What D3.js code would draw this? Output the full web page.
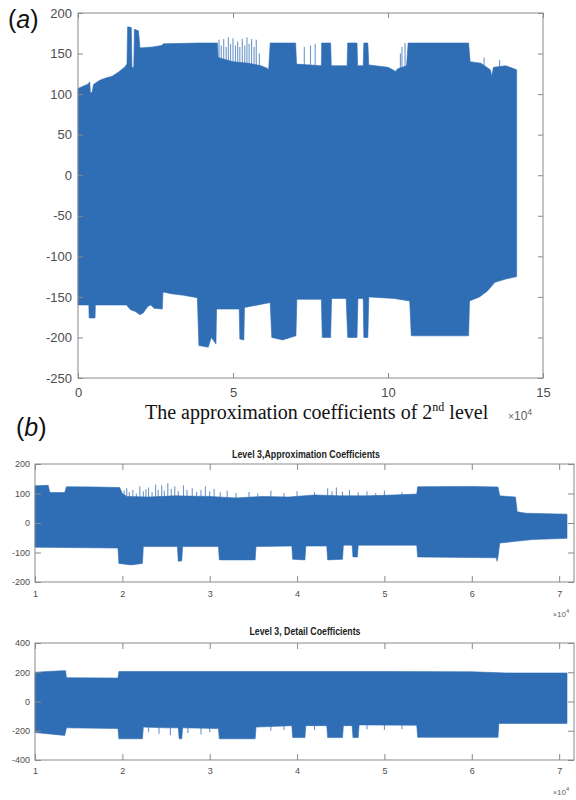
<!DOCTYPE html>
<html lang="en">
<head>
  <meta charset="UTF-8">
  <title>Wavelet coefficients</title>
  <style>
    body { margin: 0; background: #fff; }
    svg { display: block; font-family: "Liberation Sans", Arial, sans-serif; }
    .tick text { fill: #4d4d4d; }
    .tick line { stroke: #8a8a8a; }
    .domain { display: none; }
  </style>
</head>
<body>
  <script src="https://d3js.org/d3.v7.min.js"></script>
  <script>
    // envelopes, x in units of 1e4 samples
    const aTop = [[0,107],[0.3,112],[0.38,115],[0.4,101],[0.46,103],[0.5,112],[0.7,117],[0.9,120],[1.1,122],
      [1.3,127],[1.5,133],[1.58,137],[1.6,183],[1.72,182],[1.74,133],[1.8,133],[1.82,180],[1.95,178],[2.0,157],
      [2.4,158],[2.7,160],[2.75,162],[3.9,163],[4.5,163],[4.52,145],[5.0,140],[5.5,138],[5.9,135],[6.1,132],
      [6.15,130],[6.2,163],[7.02,163],[7.05,137],[7.85,135],[7.86,163],[8.15,163],[8.17,135],[8.68,135],[8.7,163],
      [9.0,163],[9.02,135],[9.2,135],[9.22,163],[9.35,163],[9.38,136],[10.0,133],[10.25,128],[10.3,131],[10.6,135],
      [10.65,163],[12.6,163],[12.65,140],[13.0,138],[13.3,130],[13.35,122],[13.4,133],[13.8,135],[14.15,130]];
    const aBottom = [[0,-160],[0.35,-160],[0.36,-176],[0.55,-176],[0.56,-160],[1.58,-160],[1.6,-162],[1.7,-166],
      [1.85,-168],[2.0,-172],[2.1,-170],[2.25,-162],[2.35,-160],[2.45,-164],[2.72,-165],[2.74,-144],[3.0,-146],
      [3.4,-148],[3.85,-151],[3.9,-210],[4.2,-212],[4.3,-200],[4.45,-208],[4.47,-165],[5.2,-165],[5.22,-202],
      [5.35,-203],[5.37,-163],[5.8,-160],[6.2,-157],[6.25,-200],[6.6,-203],[7.03,-198],[7.06,-153],[7.85,-153],
      [7.88,-200],[8.15,-200],[8.18,-152],[8.65,-152],[8.7,-200],[9.0,-200],[9.03,-152],[9.2,-152],[9.22,-200],
      [9.35,-200],[9.38,-150],[10.2,-152],[10.7,-155],[10.75,-198],[12.6,-198],[12.63,-155],[12.95,-150],
      [13.2,-143],[13.45,-132],[13.8,-128],[14.15,-125]];
    const aSpikes = [[4.55,167],[4.62,160],[4.7,168],[4.78,158],[4.85,170],[4.92,162],[5.0,169],[5.08,160],
      [5.15,165],[5.22,158],[5.3,168],[5.38,160],[5.45,170],[5.52,162],[5.6,168],[5.68,158],[5.75,167],
      [5.85,150],[7.3,158],[7.5,160],[7.65,162],[10.4,150],[10.45,158],[10.55,163],[13.1,145],[13.6,142]];

    const b1Top = [[1.0,126],[1.15,128],[1.17,103],[1.34,103],[1.36,123],[1.7,122],[1.97,120],[2.0,100],
      [2.05,90],[2.3,88],[2.6,92],[3.0,90],[3.3,85],[3.6,90],[3.9,88],[4.2,95],[4.5,92],[4.8,92],[5.1,95],
      [5.37,98],[5.38,123],[6.0,124],[6.3,122],[6.32,92],[6.5,88],[6.52,38],[6.62,33],[7.09,30]];
    const b1Bottom = [[1.0,-82],[1.95,-85],[1.96,-137],[2.1,-142],[2.23,-137],[2.24,-80],[2.63,-80],[2.64,-130],
      [2.68,-128],[2.69,-80],[3.1,-80],[3.11,-125],[3.52,-125],[3.53,-80],[3.94,-78],[3.95,-123],[4.09,-125],
      [4.1,-78],[4.34,-78],[4.35,-125],[4.52,-123],[4.53,-75],[4.63,-75],[4.64,-115],[4.69,-115],[4.7,-75],
      [5.37,-75],[5.38,-115],[6.28,-118],[6.29,-130],[6.3,-115],[6.32,-68],[6.5,-62],[6.7,-56],[7.09,-52]];
    const b1Spikes = [[2.02,110],[2.05,118],[2.08,105],[2.12,112],[2.16,100],[2.2,125],[2.24,108],[2.27,115],
      [2.3,120],[2.34,104],[2.38,130],[2.41,112],[2.45,128],[2.48,110],[2.52,135],[2.56,115],[2.6,125],
      [2.64,108],[2.7,128],[2.74,112],[2.8,118],[2.85,105],[2.9,112],[2.95,125],[3.0,108],[3.05,115],
      [3.12,104],[3.2,110],[3.3,102],[3.45,105],[3.55,100],[3.7,110],[3.85,102],[4.0,108],[4.2,105],
      [4.35,118],[4.4,108],[4.45,120],[4.52,106],[4.6,112],[4.7,104],[4.8,108],[4.9,102],[5.0,110],[5.2,104]];

    const b2Top = [[1.0,200],[1.3,210],[1.35,210],[1.36,163],[1.95,160],[1.96,205],[3.0,205],[4.0,205],
      [5.0,205],[6.0,203],[6.4,195],[7.09,195]];
    const b2Bottom = [[1.0,-212],[1.34,-232],[1.36,-180],[1.95,-185],[1.96,-255],[2.23,-255],[2.24,-175],
      [2.5,-180],[2.64,-180],[2.65,-255],[2.68,-255],[2.69,-180],[3.1,-185],[3.11,-255],[3.52,-255],[3.53,-175],
      [3.94,-165],[3.95,-247],[4.09,-247],[4.1,-165],[4.34,-165],[4.35,-247],[4.52,-247],[4.53,-165],[4.63,-165],
      [4.64,-247],[4.7,-247],[4.71,-160],[5.37,-162],[5.38,-245],[6.3,-245],[6.31,-150],[7.09,-150]];
    const b2Spikes = [[2.3,-210],[2.42,-220],[2.55,-230],[2.75,-215],[2.9,-225],[3.0,-210],[3.7,-200],
      [3.85,-195],[4.2,-195],[4.8,-190],[5.0,-195],[5.2,-190]];

    const aXTicks = [0, 5, 10, 15];
    const aYTicks = [-250, -200, -150, -100, -50, 0, 50, 100, 150, 200];
    const bXTicks = [1, 2, 3, 4, 5, 6, 7];
    const b1YTicks = [-200, -100, 0, 100, 200];
    const b2YTicks = [-400, -200, 0, 200, 400];

    const blue = "#2f6db4";
    const svg = d3.select("body").append("svg").attr("width", 576).attr("height", 800);
    const plain = d => String(d);   // hyphen minus like the original

    function panel(cfg) {
      const x = d3.scaleLinear().domain(cfg.xDomain).range([cfg.left, cfg.right]);
      const y = d3.scaleLinear().domain(cfg.yDomain).range([cfg.bottom, cfg.top]);
      const g = svg.append("g");

      // spikes first, the band covers their inner part
      g.selectAll("line.spike").data(cfg.spikes).enter().append("line")
        .attr("class", "spike")
        .attr("x1", d => x(d[0])).attr("x2", d => x(d[0]))
        .attr("y1", y(0)).attr("y2", d => y(d[1]))
        .attr("stroke", blue).attr("stroke-width", 1.1).attr("opacity", 0.7);

      const pts = cfg.topEdge.concat(cfg.bottomEdge.slice().reverse());
      const line = d3.line().x(d => x(d[0])).y(d => y(d[1]));
      g.append("path").attr("d", line(pts) + "Z").attr("fill", blue).attr("stroke", blue).attr("stroke-width", 0.6);

      const fs = cfg.fontSize;
      g.append("g").attr("transform", `translate(0,${cfg.bottom})`)
        .call(d3.axisBottom(x).tickValues(cfg.xTicks).tickFormat(plain).tickSizeInner(-cfg.tick).tickSizeOuter(0).tickPadding(cfg.xPad))
        .call(s => s.selectAll("text").attr("font-size", fs));
      g.append("g").attr("transform", `translate(0,${cfg.top})`)
        .call(d3.axisTop(x).tickValues(cfg.xTicks).tickSizeInner(-cfg.tick).tickSizeOuter(0).tickFormat(""));
      g.append("g").attr("transform", `translate(${cfg.left},0)`)
        .call(d3.axisLeft(y).tickValues(cfg.yTicks).tickFormat(plain).tickSizeInner(-cfg.tick).tickSizeOuter(0).tickPadding(cfg.yPad))
        .call(s => s.selectAll("text").attr("font-size", fs));
      g.append("g").attr("transform", `translate(${cfg.right},0)`)
        .call(d3.axisRight(y).tickValues(cfg.yTicks).tickSizeInner(-cfg.tick).tickSizeOuter(0).tickFormat(""));

      g.append("rect")
        .attr("x", cfg.left).attr("y", cfg.top)
        .attr("width", cfg.right - cfg.left).attr("height", cfg.bottom - cfg.top)
        .attr("fill", "none").attr("stroke", "#8a8a8a").attr("stroke-width", 1);
    }

    panel({ left: 78, right: 543, top: 13, bottom: 378, xDomain: [0, 15], yDomain: [-250, 200],
      topEdge: aTop, bottomEdge: aBottom, spikes: aSpikes, xTicks: aXTicks, yTicks: aYTicks,
      tick: 5, xPad: 10, yPad: 6, fontSize: 13 });
    panel({ left: 35, right: 574, top: 464, bottom: 582, xDomain: [1, 7.17], yDomain: [-200, 200],
      topEdge: b1Top, bottomEdge: b1Bottom, spikes: b1Spikes, xTicks: bXTicks, yTicks: b1YTicks,
      tick: 6, xPad: 9, yPad: 5, fontSize: 9 });
    panel({ left: 35, right: 574, top: 643, bottom: 760, xDomain: [1, 7.17], yDomain: [-400, 400],
      topEdge: b2Top, bottomEdge: b2Bottom, spikes: b2Spikes, xTicks: bXTicks, yTicks: b2YTicks,
      tick: 6, xPad: 8, yPad: 5, fontSize: 9 });

    // panel letters
    const letter = (txt, xx, yy) => {
      const t = svg.append("text").attr("x", xx).attr("y", yy).attr("font-size", 25).attr("fill", "#111");
      t.append("tspan").text("(");
      t.append("tspan").attr("font-style", "italic").text(txt);
      t.append("tspan").text(")");
    };
    letter("a", 8, 28);
    letter("b", 16, 436);

    // caption under (a)
    const cap = svg.append("text").attr("x", 145).attr("y", 419)
      .attr("font-family", "'Liberation Serif', 'Times New Roman', serif").attr("font-size", 20).attr("fill", "#111");
    cap.append("tspan").text("The approximation coefficients of 2");
    cap.append("tspan").attr("font-size", 12).attr("dy", -8).text("nd");
    cap.append("tspan").attr("dy", 8).text(" level");

    const exp = (xx, yy, fs) => {
      const t = svg.append("text").attr("x", xx).attr("y", yy).attr("font-size", fs).attr("fill", "#606060");
      t.append("tspan").attr("font-size", fs * 0.85).text("\u00d7");
      t.append("tspan").text("10");
      t.append("tspan").attr("font-size", fs * 0.72).attr("dy", -fs * 0.45).text("4");
    };
    exp(508, 420, 12);
    exp(553, 617, 8);
    exp(553, 795, 8);

    const title = (txt, cx, yy, w) => svg.append("text")
      .attr("x", cx).attr("y", yy).attr("text-anchor", "middle")
      .attr("font-family", "'Liberation Sans Narrow', 'Liberation Sans', Arial, sans-serif")
      .attr("font-weight", "bold").attr("font-size", 10).attr("fill", "#222")
      .attr("textLength", w).attr("lengthAdjust", "spacingAndGlyphs")
      .text(txt);
    title("Level 3,Approximation Coefficients", 306, 458, 148);
    title("Level 3, Detail Coefficients", 305, 635, 111);
  </script>
</body>
</html>
